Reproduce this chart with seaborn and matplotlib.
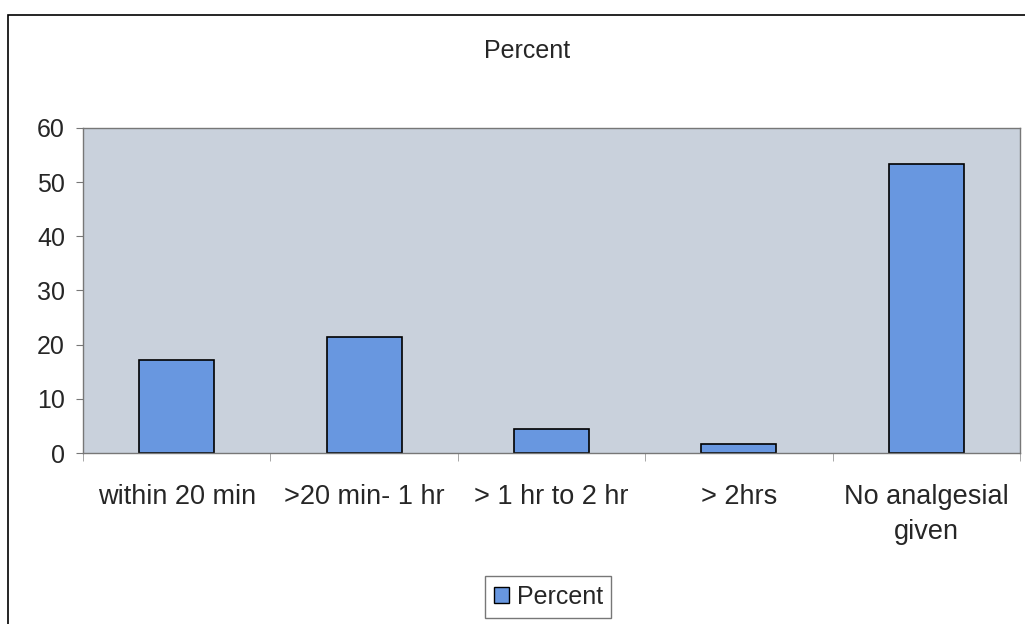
import numpy as np
import pandas as pd
import seaborn as sns
import matplotlib.pyplot as plt
from matplotlib.patches import Rectangle, Patch

# data
categories = ['within 20 min', '>20 min- 1 hr', '> 1 hr to 2 hr', '> 2hrs', 'No analgesial\ngiven']
percent = [17.2, 21.4, 4.4, 1.7, 53.4]

df = pd.DataFrame({'Time': categories, 'Percent': percent})

sns.set_style('white')
plt.rcParams['font.family'] = ['Liberation Sans', 'DejaVu Sans']

fig = plt.figure(figsize=(10.25, 6.24), dpi=100)
ax = fig.add_axes([0.081, 0.274, 0.914, 0.521])

bar_color = '#6897e0'
fs = 18
sns.barplot(data=df, x='Time', y='Percent', color=bar_color, width=0.4,
            edgecolor='black', linewidth=1.2, saturation=1, ax=ax)

ax.set_facecolor('#c9d1dc')
ax.set_xlim(-0.5, 4.5)
ax.set_ylim(0, 60)
ax.set_yticks(range(0, 61, 10))
ax.set_xlabel('')
ax.set_ylabel('')
ax.tick_params(axis='y', labelsize=fs, length=5, direction='out', color='#777777', left=True, pad=8)
ax.tick_params(axis='x', labelsize=19.5, length=0, pad=22)
for lbl in ax.get_xticklabels():
    lbl.set_linespacing(1.45)
ax.set_xticks(np.arange(-0.5, 4.6, 1), minor=True)
ax.tick_params(axis='x', which='minor', length=6, direction='out', color='#999999', bottom=True)
for s in ax.spines.values():
    s.set_color('#777777')
    s.set_linewidth(1)

fig.text(0.514, 0.918, 'Percent', ha='center', va='center', fontsize=fs)

# outer chart frame
fig.patches.append(Rectangle((8 / 1025, -0.01), 1.02, 1 - 15 / 624 + 0.01,
                             transform=fig.transFigure, fill=False,
                             edgecolor='black', linewidth=1.2))

handle = Patch(facecolor=bar_color, edgecolor='black', linewidth=1)
fig.legend([handle], ['Percent'], loc='center', bbox_to_anchor=(0.535, 0.043),
           fontsize=fs, frameon=True, fancybox=False, edgecolor='#555555',
           handlelength=0.6, handleheight=0.6, handletextpad=0.3, borderpad=0.35)

fig.savefig('out.png', dpi=100)
